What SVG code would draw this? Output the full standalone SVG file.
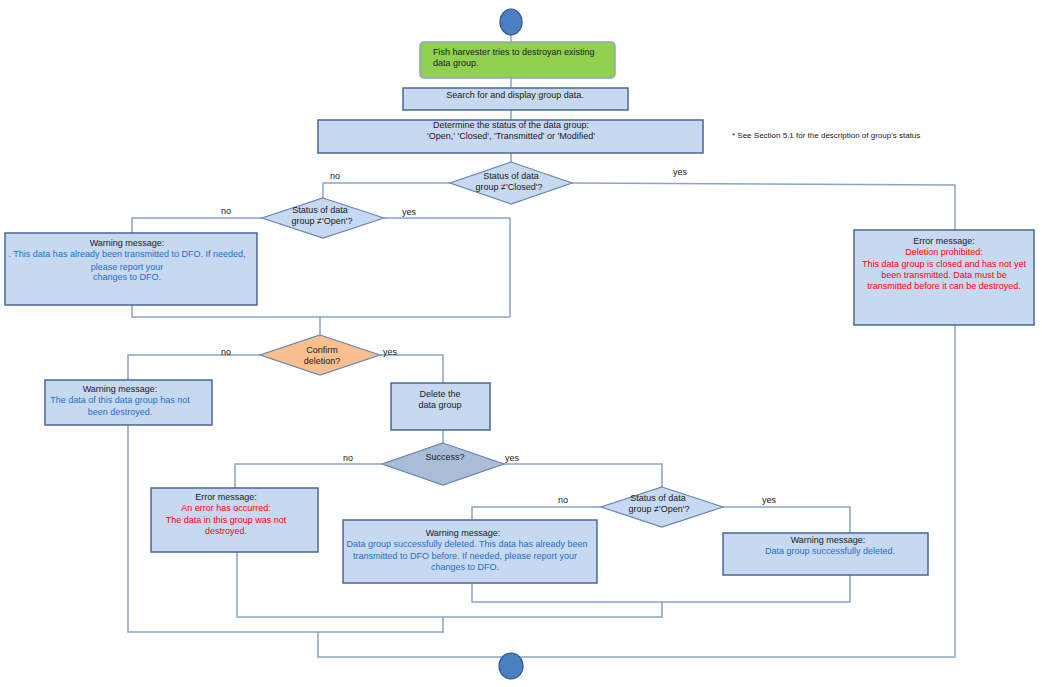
<svg xmlns="http://www.w3.org/2000/svg" width="1042" height="687" viewBox="0 0 1042 687">
<style>
text{font-family:"Liberation Sans Narrow","Liberation Sans",sans-serif;font-size:9px;fill:#1a1a1a;text-anchor:middle}
.b{fill:#c6d9f1;stroke:#4a6796;stroke-width:1.5}
.d{fill:#c6d9f1;stroke:#6a86b0;stroke-width:1.2}
.c{fill:#4a7fc1;stroke:#30578c;stroke-width:1.2}
.blue{fill:#1f6fc5}
.red{fill:#ff0000}
.l{text-anchor:start}
#conn path{fill:none;stroke:#8aa4c8;stroke-width:1.5}
</style>
<rect width="1042" height="687" fill="#fff"/>
<g id="conn">
<path d="M511 35V42M511 78V88M511 110V120M511 153V162"/>
<path d="M450 183H323V198M572 183L955 185V230"/>
<path d="M262 218H132V233M384 218H510V317M132 305V317H510M320 317V335"/>
<path d="M260 355H128V380M380 355H443V383M443 430V443"/>
<path d="M382 464H235V488M504 464H662V487M601 507H472V520M723 507H850V533"/>
<path d="M472 583V602H850V575M662 602V617H237V552M443 617V632H128V425M318 632V657H955V325M511 657V653"/>
</g>
<g id="start"><ellipse class="c" cx="511" cy="22" rx="11" ry="13"/></g>
<g id="n1"><rect x="420" y="42" width="195" height="36" rx="4" fill="#92d050" stroke="#8aa4c8" stroke-width="1.5"/>
<text class="l" x="433" y="55">Fish harvester tries to destroyan existing</text><text class="l" x="433" y="66">data group.</text></g>
<g id="n2"><rect class="b" x="403" y="88" width="225" height="22"/><text x="515" y="98">Search for and display group data.</text></g>
<g id="n3"><rect class="b" x="318" y="120" width="385" height="33"/><text x="511" y="128">Determine the status of the data group:</text><text x="511" y="139">'Open,' 'Closed', 'Transmitted' or 'Modified'</text></g>
<text class="l" x="732" y="138" style="font-size:8px">* See Section 5.1 for the description of group's status</text>
<g id="d1"><path class="d" d="M511 162L572 183L511 204L450 183Z"/><text x="511" y="179">Status of data</text><text x="509" y="190">group ≠'Closed'?</text></g>
<text x="335" y="179">no</text><text x="680" y="175">yes</text>
<g id="d2"><path class="d" d="M323 198L384 218L323 238L262 218Z"/><text x="320" y="213">Status of data</text><text x="322" y="224">group ≠'Open'?</text></g>
<text x="226" y="214">no</text><text x="409" y="215">yes</text>
<g id="w1"><rect class="b" x="5" y="233" width="252" height="72"/><text x="127" y="246">Warning message:</text>
<text class="blue" x="127" y="257">. This data has already been transmitted to DFO. If needed,</text><text class="blue" x="127" y="270">please report your</text><text class="blue" x="127" y="280">changes to DFO.</text></g>
<g id="e1"><rect class="b" x="854" y="230" width="180" height="95"/><text x="944" y="244">Error message:</text>
<text class="red" x="944" y="255">Deletion prohibited:</text><text class="red" x="944" y="267">This data group is closed and has not yet</text><text class="red" x="944" y="278">been transmitted.  Data must be</text><text class="red" x="944" y="289">transmitted before it can be destroyed.</text></g>
<g id="d3"><path d="M320 335L380 355L320 375L260 355Z" fill="#f9bf8f" stroke="#6a86b0" stroke-width="1.2"/><text x="322" y="353">Confirm</text><text x="322" y="364">deletion?</text></g>
<text x="226" y="355">no</text><text x="390" y="355">yes</text>
<g id="w2"><rect class="b" x="45" y="380" width="167" height="45"/><text x="120" y="392">Warning message:</text>
<text class="blue" x="120" y="403">The data of this data  group has not</text><text class="blue" x="120" y="415">been destroyed.</text></g>
<g id="n4"><rect class="b" x="391" y="383" width="99" height="47"/><text x="440" y="397">Delete the</text><text x="440" y="408">data group</text></g>
<g id="d4"><path d="M443 443L504 464L443 485L382 464Z" fill="#a9bcd8" stroke="#6a86b0" stroke-width="1.2"/><text x="445" y="460">Success?</text></g>
<text x="348" y="461">no</text><text x="512" y="461">yes</text>
<g id="e2"><rect class="b" x="151" y="488" width="167" height="64"/><text x="226" y="500">Error message:</text>
<text class="red" x="226" y="511">An error has occurred:</text><text class="red" x="226" y="523">The data in this group was not</text><text class="red" x="226" y="534">destroyed.</text></g>
<g id="d5"><path class="d" d="M662 487L723 507L662 527L601 507Z"/><text x="658" y="501">Status of data</text><text x="659" y="512">group ≠'Open'?</text></g>
<text x="563" y="503">no</text><text x="769" y="503">yes</text>
<g id="w3"><rect class="b" x="343" y="520" width="254" height="63"/><text x="463" y="536">Warning message:</text>
<text class="blue" x="467" y="547">Data group successfully deleted. This data has already been</text><text class="blue" x="465" y="559">transmitted to DFO before. If needed, please report your</text><text class="blue" x="465" y="570">changes to DFO.</text></g>
<g id="w4"><rect class="b" x="723" y="533" width="205" height="42"/><text x="828" y="543">Warning message:</text><text class="blue" x="830" y="554">Data group successfully deleted.</text></g>
<g id="end"><ellipse class="c" cx="511" cy="666" rx="12" ry="13"/></g>
</svg>
